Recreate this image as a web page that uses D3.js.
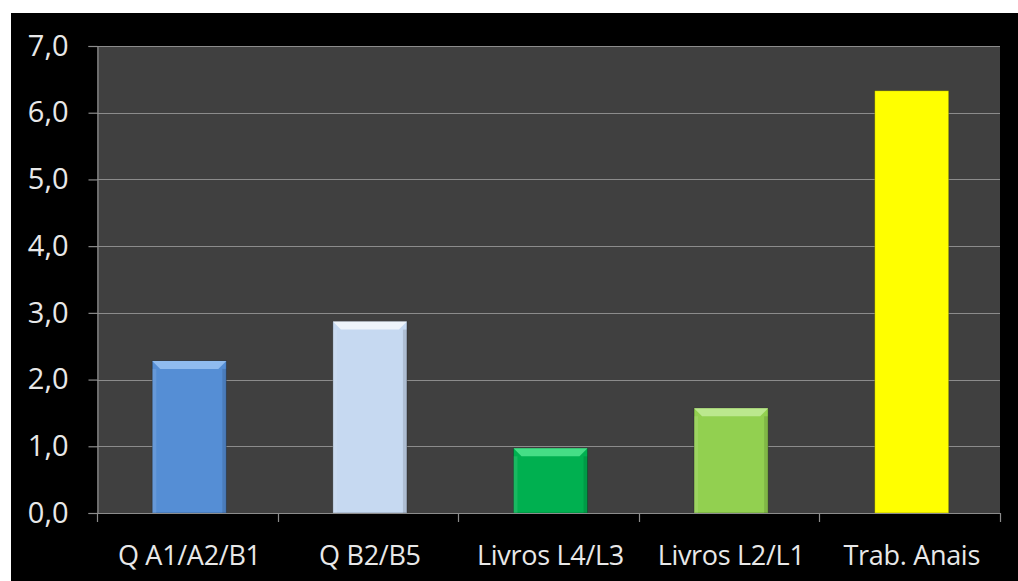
<!DOCTYPE html>
<html>
<head>
<meta charset="utf-8">
<script src="https://cdn.jsdelivr.net/npm/d3@7"></script>
<style>
  body { margin: 0; background: #fff; }
  svg text { font-family: "Open Sans", sans-serif; }
</style>
</head>
<body>
<div id="chart"></div>
<script>
const categories = ["Q A1/A2/B1", "Q B2/B5", "Livros L4/L3", "Livros L2/L1", "Trab. Anais"];
const values = [2.28, 2.87, 0.97, 1.57, 6.33];
const barColors = ["#558ed5", "#c6d9f1", "#00b050", "#92d050", "#ffff00"];
const bevelColors = ["#8fbbef", "#eef4fb", "#45de86", "#bbe88e", null];
const yTicks = [0, 1, 2, 3, 4, 5, 6, 7];

const width = 1018, height = 581;
const plot = { left: 97, top: 46, right: 1000, bottom: 513 };

const svg = d3.select("#chart").append("svg")
  .attr("width", width)
  .attr("height", height);

svg.append("rect")
  .attr("x", 11).attr("y", 13)
  .attr("width", width - 11).attr("height", height - 13)
  .attr("fill", "#000");

svg.append("rect")
  .attr("x", plot.left).attr("y", plot.top)
  .attr("width", plot.right - plot.left).attr("height", plot.bottom - plot.top)
  .attr("fill", "#404040");

const x = d3.scaleBand()
  .domain(categories)
  .range([plot.left, plot.right])
  .paddingInner(0.59)
  .paddingOuter(0.295);

const y = d3.scaleLinear()
  .domain([0, 7])
  .range([plot.bottom, plot.top]);

// gridlines
svg.append("g")
  .selectAll("line")
  .data(yTicks.slice(1))
  .join("line")
  .attr("x1", plot.left).attr("x2", plot.right)
  .attr("y1", d => Math.round(y(d)) + 0.5)
  .attr("y2", d => Math.round(y(d)) + 0.5)
  .attr("stroke", "#8c8c8c")
  .attr("stroke-width", 1.2);

// bars (slightly right of band centre, as in the original)
const shift = 2;
const bars = svg.append("g")
  .attr("transform", `translate(${shift},0)`)
  .selectAll("g")
  .data(categories)
  .join("g");

bars.append("rect")
  .attr("x", d => x(d))
  .attr("y", (d, i) => y(values[i]))
  .attr("width", x.bandwidth())
  .attr("height", (d, i) => y(0) - y(values[i]))
  .attr("fill", (d, i) => barColors[i])
  .attr("stroke", "rgba(0,0,0,0.25)")
  .attr("stroke-width", 1);

// bevel on top and sides
const bv = 8;
bars.filter((d, i) => bevelColors[i])
  .append("path")
  .attr("d", (d, i) => {
    const x0 = x(d), x1 = x(d) + x.bandwidth(), t = y(values[i]);
    return `M${x0},${t}L${x1},${t}L${x1 - bv},${t + bv}L${x0 + bv},${t + bv}Z`;
  })
  .attr("fill", (d, i) => bevelColors[i]);

bars.filter((d, i) => bevelColors[i])
  .append("rect")
  .attr("x", d => x(d) + x.bandwidth() - 4)
  .attr("y", (d, i) => y(values[i]) + bv)
  .attr("width", 4)
  .attr("height", (d, i) => y(0) - y(values[i]) - bv)
  .attr("fill", "rgba(0,0,0,0.12)");

bars.filter((d, i) => bevelColors[i])
  .append("rect")
  .attr("x", d => x(d))
  .attr("y", (d, i) => y(values[i]) + bv)
  .attr("width", 4)
  .attr("height", (d, i) => y(0) - y(values[i]) - bv)
  .attr("fill", "rgba(255,255,255,0.10)");

// y axis
const yAxis = d3.axisLeft(y)
  .tickValues(yTicks)
  .tickSize(9)
  .tickPadding(20)
  .tickFormat(d => d3.format(".1f")(d).replace(".", ","));

const gy = svg.append("g")
  .attr("transform", `translate(${plot.left + 0.5},0)`)
  .call(yAxis);
gy.select(".domain").attr("stroke", "#8c8c8c").attr("stroke-width", 1.2);
gy.selectAll(".tick line").attr("stroke", "#8c8c8c").attr("stroke-width", 1.2);
gy.selectAll(".tick text")
  .attr("fill", "#e8e8e8")
  .attr("font-size", 29)
  .attr("font-family", "Open Sans, sans-serif");

// x axis: ticks on band boundaries
const gx = svg.append("g");
gx.append("line")
  .attr("x1", plot.left).attr("x2", plot.right)
  .attr("y1", plot.bottom + 0.5).attr("y2", plot.bottom + 0.5)
  .attr("stroke", "#8c8c8c").attr("stroke-width", 1.2);

const bounds = categories.map(c => x(c) - x.step() * x.paddingInner() / 2)
  .concat([plot.right]);
gx.selectAll("line.tk")
  .data(bounds)
  .join("line")
  .attr("class", "tk")
  .attr("x1", d => Math.round(d) + 0.5).attr("x2", d => Math.round(d) + 0.5)
  .attr("y1", plot.bottom).attr("y2", plot.bottom + 9)
  .attr("stroke", "#8c8c8c").attr("stroke-width", 1.2);

gx.selectAll("text")
  .data(categories)
  .join("text")
  .attr("x", d => x(d) + x.bandwidth() / 2 + shift)
  .attr("y", 565)
  .attr("text-anchor", "middle")
  .attr("fill", "#e8e8e8")
  .attr("font-size", 27)
  .attr("letter-spacing", -0.3)
  .text(d => d);
</script>
</body>
</html>
